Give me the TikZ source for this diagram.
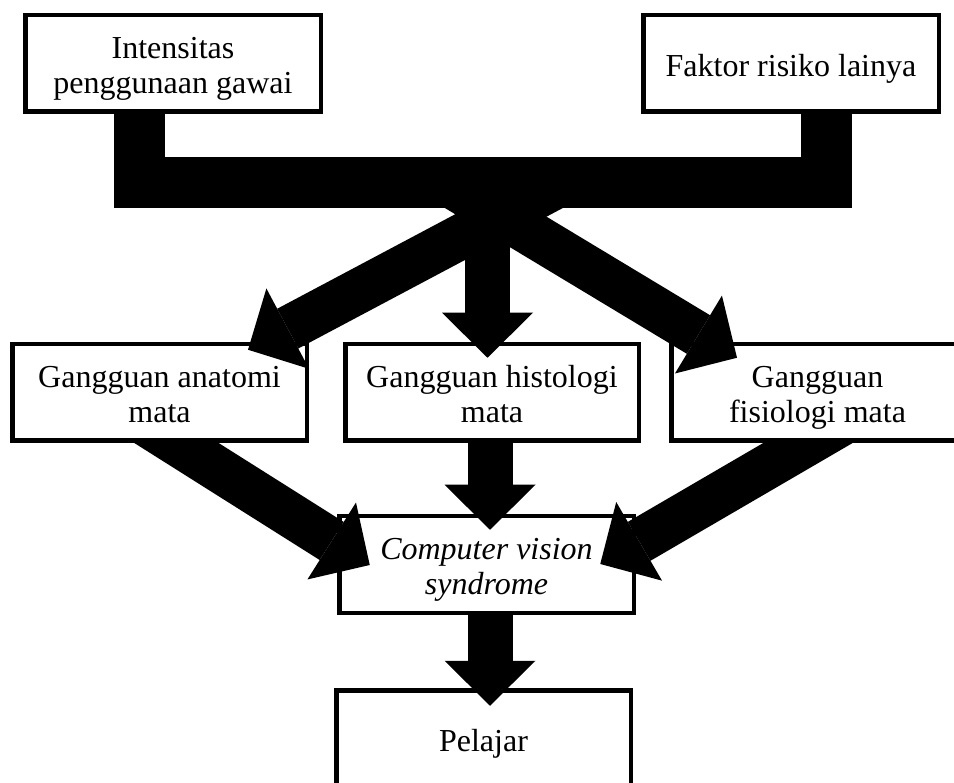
\documentclass[tikz,border=0pt]{standalone}
\usepackage{fontspec}
\setmainfont{Liberation Serif}
\usetikzlibrary{arrows.meta,calc}
\pgfdeclarelayer{lone}
\pgfdeclarelayer{ltwo}
\pgfdeclarelayer{lfour}
\pgfsetlayers{lone,ltwo,main,lfour}
\newcommand\tS{\rule{0pt}{33pt}}
\newcommand\bS{\rule[-7.5pt]{0pt}{7.5pt}}
\begin{document}
\begin{tikzpicture}[x=1pt,y=-1pt,
  box/.style={draw=black, line width=4.5pt, fill=white, inner sep=0pt,
    minimum height=96.5pt, align=center,
    font=\fontsize{32pt}{35pt}\selectfont},
  barline/.style={line width=51pt, line join=miter},
  bigarrow/.style={line width=45pt,
    -{Triangle[length=45pt,width=91pt,line width=0pt]}}]
\useasboundingbox (0,0) rectangle (954,783);

% lower boxes (below their incoming arrows)
\begin{pgfonlayer}{lone}
\node[box, minimum width=294.5pt] (cvs) at (486.5,564.5)
  {\itshape\tS Computer vision\\\itshape syndrome\bS};
\node[box, minimum width=294.5pt] (pe) at (483.5,738.5) {\tS Pelajar\bS};
\end{pgfonlayer}

% middle row and top boxes
\node[box, minimum width=294.5pt] (an) at (159.5,392.5)
  {\tS Gangguan anatomi\\mata\bS};
\node[box, minimum width=293.5pt] (hi) at (492,392.5)
  {\tS Gangguan histologi\\mata\bS};
\node[box, minimum width=292.5pt] (fi) at (817.5,392.5)
  {\tS Gangguan\\fisiologi mata\bS};
\node[box, minimum width=295.5pt] (i1) at (173,63.5)
  {\tS Intensitas\\penggunaan gawai\bS};
\node[box, minimum width=295.5pt] (f1) at (791,63.5)
  {\tS Faktor risiko lainya\bS};

% arrows into Computer vision syndrome and Pelajar
\begin{pgfonlayer}{ltwo}
\draw[bigarrow] ($(an.center)+(-19.5,27.5)$) -- ($(cvs.west)+(32.75,0.5)$);
\draw[bigarrow] ($(hi.center)+(-2,27.5)$) -- ($(cvs.north)+(3.5,15.75)$);
\draw[bigarrow] ($(fi.center)+(26.5,29.5)$) -- ($(cvs.east)+(-35.75,-0.5)$);
\draw[bigarrow] ($(cvs.south)+(3.5,0)$) -- ($(pe.north)+(6.5,17.75)$);
\end{pgfonlayer}

% top bar and the fan of arrows
\begin{pgfonlayer}{lfour}
\coordinate (bl) at (139.5,183);
\coordinate (br) at (826.5,183);
\coordinate (hub) at (487.5,183);
\draw[barline] (i1.south -| bl) -- (bl) -- (br) -- (f1.south -| br);
\draw[bigarrow] ($(hub)+(74.5,0)$) -- ($(an.north)+(88.5,7.75)$);
\draw[bigarrow] (hub) -- ($(hi.north -| hub)+(0,15.75)$);
\draw[bigarrow] ($(hub)+(-40.5,0)$) -- ($(fi.north)+(-80.5,15.75)$);
\end{pgfonlayer}
\end{tikzpicture}
\end{document}
